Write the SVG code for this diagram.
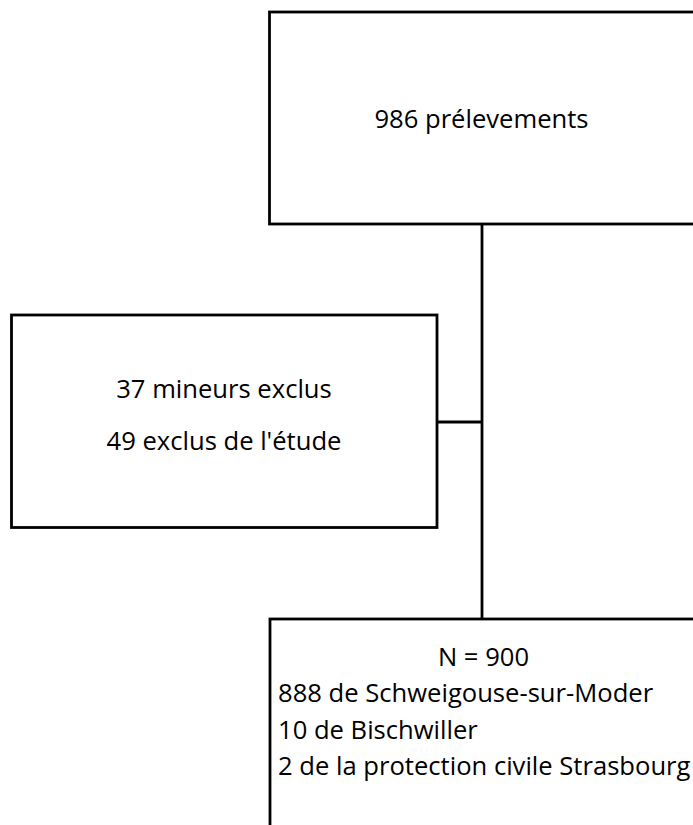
<svg xmlns="http://www.w3.org/2000/svg" width="693" height="825" viewBox="0 0 693 825">
<style>
.box{fill:#fff;stroke:#000;stroke-width:2.8}
.ln{stroke:#000;stroke-width:2.8;fill:none}
text{font-family:"Open Sans","DejaVu Sans",sans-serif;font-size:25.6px;fill:#000}
.c{text-anchor:middle}
</style>
<rect width="693" height="825" fill="#fff"/>
<g id="connectors">
<line class="ln" x1="482" y1="224" x2="482" y2="619"/>
<line class="ln" x1="437" y1="422" x2="482" y2="422"/>
</g>
<g id="n1">
<rect class="box" x="269.5" y="12" width="500" height="212"/>
<text class="c" x="481.5" y="127.5">986 prélevements</text>
</g>
<g id="n2">
<rect class="box" x="11.5" y="315" width="425.5" height="212.5"/>
<text class="c" x="224" y="397.5">37 mineurs exclus</text>
<text class="c" x="224" y="449.5">49 exclus de l'étude</text>
</g>
<g id="n3">
<rect class="box" x="270" y="619" width="500" height="300"/>
<text class="c" x="483.5" y="665.5">N = 900</text>
<text x="278" y="702">888 de Schweigouse-sur-Moder</text>
<text x="278" y="738.5">10 de Bischwiller</text>
<text x="278" y="775">2 de la protection civile Strasbourg</text>
</g>
</svg>
